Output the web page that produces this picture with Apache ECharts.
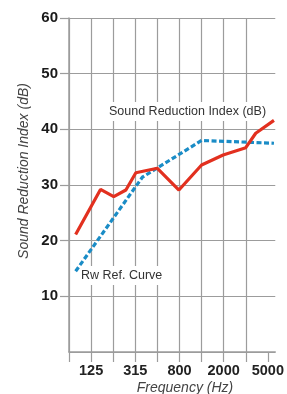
<!DOCTYPE html>
<html>
<head>
<meta charset="utf-8">
<script src="https://cdn.jsdelivr.net/npm/echarts@6/dist/echarts.min.js"></script>
<style>
    html, body { margin: 0; padding: 0; background: #fff; }
    #chart { width: 287px; height: 394px; }
</style>
</head>
<body>
<div id="chart"></div>
<script>
    // x is the third-octave band index: 0 = 100 Hz, 1 = 125 Hz, ... 17 = 5000 Hz
    const bandTicks = [-1, 1, 3, 5, 7, 9, 11, 13, 15, 17];
    const bandLabels = { 1: "125", 5: "315", 9: "800", 13: "2000", 17: "5000" };

    const measuredX = [-0.4, 1.85, 3.05, 4.15, 5.05, 7.0, 8.95, 11.0, 12.95, 15.0, 15.9, 17.55];
    const measuredDb = [21.1, 29.2, 27.9, 29.1, 32.2, 33.0, 29.1, 33.6, 35.4, 36.7, 39.3, 41.6];

    const refX = [-0.4, 5.64, 11.0, 17.55];
    const refDb = [14.5, 31.4, 38.0, 37.5];

    const gridColor = "#9c9c9c";
    const font = "Liberation Sans, Arial, sans-serif";

    const chart = echarts.init(document.getElementById("chart"), null, { renderer: "canvas" });

    const toPairs = (xs, ys) => xs.map((x, i) => [x, ys[i]]);

    chart.setOption({
        animation: false,
        grid: {
            left: 69,
            right: 9,
            top: 18,
            bottom: 42
        },
        xAxis: {
            type: "value",
            min: -1,
            max: 17.67,
            interval: 2,
            axisLine: { show: true, onZero: false, lineStyle: { color: gridColor, width: 1.5 } },
            axisTick: {
                show: true,
                length: 10,
                customValues: bandTicks,
                lineStyle: { color: gridColor, width: 1.2 }
            },
            axisLabel: {
                formatter: value => bandLabels[value] || "",
                color: "#222",
                fontFamily: font,
                fontWeight: "bold",
                fontSize: 14.5,
                margin: 11
            },
            splitLine: {
                show: true,
                showMaxLine: false,
                lineStyle: { color: gridColor, width: 1.2 }
            }
        },
        yAxis: {
            type: "value",
            min: 0,
            max: 60,
            interval: 10,
            axisLine: { show: true, onZero: false, lineStyle: { color: gridColor, width: 1.5 } },
            axisTick: { show: true, length: 9, lineStyle: { color: gridColor, width: 1.2 } },
            axisLabel: {
                showMinLabel: false,
                color: "#1a1a1a",
                fontFamily: font,
                fontWeight: "bold",
                fontSize: 15,
                margin: 11
            },
            splitLine: { lineStyle: { color: gridColor, width: 1.2 } }
        },
        series: [
            {
                type: "line",
                data: toPairs(refX, refDb),
                showSymbol: false,
                lineStyle: { color: "#1a8cc6", width: 3.2, type: [5, 2.5] },
                z: 3
            },
            {
                type: "line",
                data: toPairs(measuredX, measuredDb),
                showSymbol: false,
                lineStyle: { color: "#e2301f", width: 3.2 },
                z: 4
            }
        ],
        graphic: [
            {
                type: "text",
                left: 106,
                top: 102,
                z: 10,
                style: {
                    text: "Sound Reduction Index (dB)",
                    fill: "#333",
                    font: "12.5px " + font,
                    backgroundColor: "#fff",
                    padding: [3, 3, 3, 3]
                }
            },
            {
                type: "text",
                left: 78,
                top: 266,
                z: 2,
                style: {
                    text: "Rw Ref. Curve",
                    fill: "#333",
                    font: "12.5px " + font,
                    backgroundColor: "#fff",
                    padding: [3, 3, 3, 3]
                }
            },
            {
                type: "text",
                x: 24,
                y: 171,
                rotation: Math.PI / 2,
                style: {
                    text: "Sound Reduction Index (dB)",
                    fill: "#444",
                    font: "italic 14px " + font,
                    align: "center",
                    verticalAlign: "middle"
                }
            },
            {
                type: "text",
                x: 185,
                y: 388,
                style: {
                    text: "Frequency (Hz)",
                    fill: "#444",
                    font: "italic 14px " + font,
                    align: "center",
                    verticalAlign: "middle"
                }
            }
        ]
    });
</script>
</body>
</html>
